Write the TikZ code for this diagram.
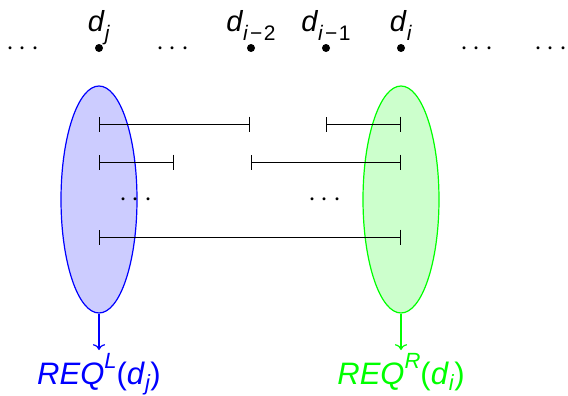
\documentclass[tikz,border=0pt]{standalone}
\usepackage{fontspec}
\setmainfont{Liberation Sans}
\usetikzlibrary{shapes,arrows.meta,positioning,calc}
\newcommand{\dsub}[1]{\textit{d}\raisebox{-0.3em}{\fontsize{10.5}{10.5}\selectfont #1}}
\newcommand{\mminus}{\kern0.08em−\kern0.08em}
\newcommand{\reqof}[2]{\textit{REQ}\raisebox{0.5em}{\fontsize{11}{11}\selectfont\textit{#1}}(\textit{d}\raisebox{-0.2em}{\fontsize{11}{11}\selectfont\textit{#2}})}
\tikzstyle{docpt} = [circle, fill=black, inner sep=0pt, minimum size=4pt]
\tikzstyle{lab} = [anchor=base, inner sep=0pt, font=\fontsize{14.5}{14.5}\selectfont]
\tikzstyle{dotsrow} = [anchor=base, inner sep=0pt, font=\fontsize{14.6}{15}\selectfont]
\tikzstyle{seg} = [draw, line width=0.4pt, {Bar[width=7.5pt]}-{Bar[width=7.5pt]}]
\tikzstyle{req} = [draw, ellipse, line width=0.6pt, minimum width=38pt, minimum height=113.5pt, inner sep=0pt]
\tikzstyle{result} = [draw, line width=0.6pt, ->]
\tikzstyle{reqlab} = [anchor=base, inner sep=0pt, font=\fontsize{15.5}{15.5}\selectfont]

\begin{document}
\begin{tikzpicture}[x=0.5pt, y=-0.5pt]
    \useasboundingbox (0,0) rectangle (568,396);
    % Requirement sets
    \node [req, draw=blue, fill=blue!20] (reqL) at (99,199.5) {};
    \node [req, draw=green, fill=green!20] (reqR) at (401,199.5) {};

    % Documents
    \node [docpt] (dj) at (99,48) {};
    \node [docpt] (dim2) at (251,48) {};
    \node [docpt] (dim1) at (326,48) {};
    \node [docpt] (di) at (401,48) {};
    \node [lab] (djlab) at (99,32) {\dsub{\textit{j}}};
    \node [lab] (dim2lab) at (251,32) {\dsub{\textit{i}\mminus2}};
    \node [lab] (dim1lab) at (326,32) {\dsub{\textit{i}\mminus1}};
    \node [lab] (dilab) at (401,32) {\dsub{\textit{i}}};
    \node [dotsrow] (gap1) at (23,55) {$\cdots$};
    \node [dotsrow] (gap2) at (173,55) {$\cdots$};
    \node [dotsrow] (gap3) at (477,55) {$\cdots$};
    \node [dotsrow] (gap4) at (551,55) {$\cdots$};

    % Spans
    \coordinate (a1) at (99,124);  \coordinate (b1) at (250,124);
    \coordinate (c1) at (326,124); \coordinate (e1) at (401,124);
    \coordinate (a2) at (99,162);  \coordinate (b2) at (174,162);
    \coordinate (c2) at (251,162); \coordinate (e2) at (401,162);
    \coordinate (a4) at (99,237);  \coordinate (e4) at (401,237);
    \path [seg] (a1) -- (b1);
    \path [seg] (c1) -- (e1);
    \path [seg] (a2) -- (b2);
    \path [seg] (c2) -- (e2);
    \path [seg] (a4) -- (e4);
    \node [dotsrow] (gapL) at (136,206) {$\cdots$};
    \node [dotsrow] (gapR) at (325,206) {$\cdots$};

    % Results
    \coordinate (outL) at (99,350);
    \coordinate (outR) at (401,350);
    \path [result, blue] (reqL.south) -- (outL);
    \path [result, green] (reqR.south) -- (outR);
    \node [reqlab, text=blue] (reqLlab) at (99,384) {\reqof{L}{j}};
    \node [reqlab, text=green] (reqRlab) at (401,384) {\reqof{R}{i}};
\end{tikzpicture}
\end{document}
